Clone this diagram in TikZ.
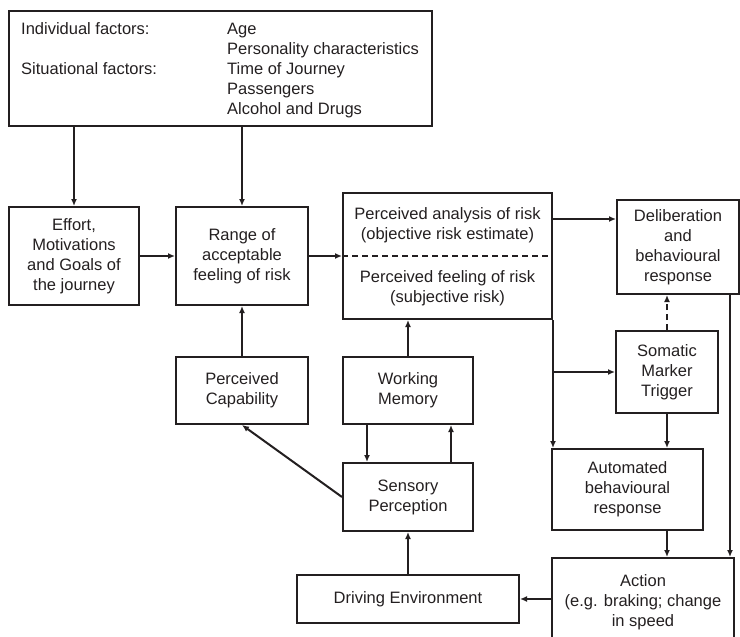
\documentclass[tikz,border=0pt]{standalone}
\usepackage{fontspec}
\setmainfont{Liberation Sans}
\usetikzlibrary{arrows.meta}
\definecolor{ink}{RGB}{35,31,32}
\begin{document}
\begin{tikzpicture}[x=1pt,y=-1pt,
  every node/.style={font=\fontsize{16.5}{20}\selectfont, text=ink},
  box/.style={draw=ink, line width=2pt, rectangle, inner sep=0pt, align=center, anchor=center},
  lbl/.style={inner sep=0pt, anchor=west, text height=12pt, text depth=3.5pt},
  arr/.style={draw=ink, line width=2pt, -{Latex[length=7pt,width=6pt]}},
  dashline/.style={draw=ink, line width=2pt, dash pattern=on 6pt off 4pt}]
\path[use as bounding box, clip] (0,0) rectangle (740,637);

% factors box
\node[box, minimum width=423pt, minimum height=115pt] (topbox) at (220.5,68.5) {};
\node[lbl] (indiv) at (21,30) {Individual factors:};
\node[lbl] (age) at (227,30) {Age};
\node[lbl] (pers) at (227,50) {Personality characteristics};
\node[lbl] (situ) at (21,70) {Situational factors:};
\node[lbl] (time) at (227,70) {Time of Journey};
\node[lbl] (pass) at (227,90) {Passengers};
\node[lbl] (alc) at (227,110) {Alcohol and Drugs};

% main row
\node[box, minimum width=130pt, minimum height=98pt] (effort) at (74,256)
  {Effort,\\Motivations\\and Goals of\\the journey};
\node[box, minimum width=132pt, minimum height=98pt] (range) at (242,256)
  {Range of\\acceptable\\feeling of risk};
\node[box, minimum width=209pt, minimum height=126pt] (perc) at (447.5,256) {};
\node[inner sep=0pt, align=center] (pa) at (447.5,225)
  {Perceived analysis of risk\\(objective risk estimate)};
\node[inner sep=0pt, align=center] (pf) at (447.5,288)
  {Perceived feeling of risk\\(subjective risk)};
\node[box, minimum width=122pt, minimum height=94pt] (delib) at (678,247)
  {Deliberation\\and\\behavioural\\response};

% lower left
\node[box, minimum width=132pt, minimum height=67pt] (cap) at (242,390.5)
  {Perceived\\Capability};
\node[box, minimum width=130pt, minimum height=67pt] (wm) at (408,390.5)
  {Working\\Memory};
\node[box, minimum width=130pt, minimum height=68pt] (sp) at (408,497)
  {Sensory\\Perception};
\node[box, minimum width=222pt, minimum height=48pt] (de) at (408,599)
  {Driving Environment};

% lower right
\node[box, minimum width=102pt, minimum height=82pt] (soma) at (667,372)
  {Somatic\\Marker\\Trigger};
\node[box, minimum width=151pt, minimum height=81pt] (auto) at (627.5,489.5)
  {Automated\\behavioural\\response};
\node[box, minimum width=182pt, minimum height=88pt] (action) at (643,602)
  {Action\\(e.g. braking; change\\in speed};

% connectors
\draw[dashline] (perc.west) -- (perc.east);
\draw[arr] (effort.north |- topbox.south) -- (effort.north);
\draw[arr] (range.north |- topbox.south) -- (range.north);
\draw[arr] (effort.east) -- (range.west);
\draw[arr] (range.east) -- (perc.west);
\coordinate (pr) at (552,219);
\draw[arr] (pr) -- (pr -| delib.west);
\draw[arr] (perc.south east) -- (perc.south east |- auto.north);
\draw[arr] (soma.west -| perc.east) -- (soma.west);
\draw[arr, dash pattern=on 6pt off 4pt] (soma.north) -- (soma.north |- delib.south);
\draw[arr] (soma.south) -- (soma.south |- auto.north);
\draw[arr] (soma.south |- auto.south) -- (soma.south |- action.north);
\coordinate (dr) at ([xshift=52pt]delib.south);
\draw[arr] (dr) -- (dr |- action.north);
\draw[arr] (de.east -| action.west) -- (de.east);
\draw[arr] (de.north) -- (sp.south);
\coordinate (wl) at ([xshift=-41pt]wm.south);
\coordinate (wr) at ([xshift=43pt]wm.south);
\draw[arr] (wl) -- (wl |- sp.north);
\draw[arr] (wr |- sp.north) -- (wr);
\draw[arr] (wm.north) -- (wm.north |- perc.south);
\draw[arr] (cap.north) -- (range.south);
\draw[arr] (sp.west) -- (cap.south);
\end{tikzpicture}
\end{document}
